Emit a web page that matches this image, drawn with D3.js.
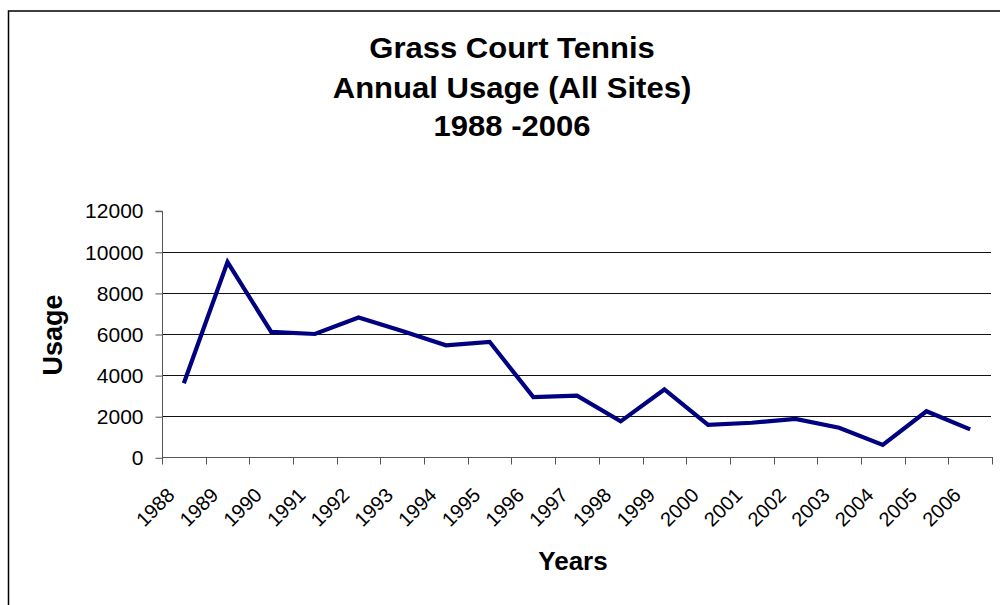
<!DOCTYPE html>
<html>
<head>
<meta charset="utf-8">
<script src="https://cdn.jsdelivr.net/npm/d3@7"></script>
<style>
  html, body { margin: 0; padding: 0; background: #fff; }
  svg { display: block; }
  text { font-family: Arial, "Liberation Sans", sans-serif; fill: #000; }
</style>
</head>
<body>
<svg id="chart" width="1000" height="605"></svg>
<script>
// ---- data ----
const years = ["1988","1989","1990","1991","1992","1993","1994","1995","1996","1997",
               "1998","1999","2000","2001","2002","2003","2004","2005","2006"];
const usage = [3600, 9500, 6100, 6000, 6800, 6150, 5450, 5620, 2930, 3000,
               1750, 3300, 1580, 1680, 1870, 1440, 600, 2240, 1360];
const yTicks = [0, 2000, 4000, 6000, 8000, 10000, 12000];
const titleLines = ["Grass Court Tennis", "Annual Usage (All Sites)", "1988 -2006"];
const xTitle = "Years";
const yTitle = "Usage";

// ---- layout ----
const svg = d3.select("#chart");
const plotLeft = 162, plotRight = 992, plotTop = 210.7, plotBottom = 457.3;

// outer chart border
svg.append("rect")
  .attr("x", 8.5).attr("y", 11).attr("width", 1200).attr("height", 800)
  .attr("fill", "none").attr("stroke", "#000").attr("stroke-width", 1.5);

const x = d3.scaleBand().domain(years).range([plotLeft, plotRight]).padding(0);
const y = d3.scaleLinear().domain([0, 12000]).range([plotBottom, plotTop]);

// gridlines (not at 0 and not at max)
svg.append("g").selectAll("line")
  .data(yTicks.filter(d => d > 0 && d < 12000))
  .join("line")
  .attr("x1", plotLeft).attr("x2", plotRight - 1)
  .attr("y1", d => Math.round(y(d)) + 0.5).attr("y2", d => Math.round(y(d)) + 0.5)
  .attr("stroke", "#111").attr("stroke-width", 1);

// y axis
const yAxis = d3.axisLeft(y).tickValues(yTicks).tickSize(7).tickPadding(12).tickFormat(d3.format("d"));
const gy = svg.append("g").attr("transform", `translate(${plotLeft + 0.5},0.5)`).call(yAxis);
gy.select(".domain").attr("stroke", "#555").attr("d", `M-7,${y(12000)}H0V${y(0)}`);
gy.selectAll(".tick line").attr("stroke", "#555");
gy.selectAll(".tick text").attr("font-size", "21px").attr("font-family", "Arial, 'Liberation Sans', sans-serif").attr("fill", "#000");

// x axis: ticks at band boundaries
const boundaries = years.map(d => x(d)).concat([plotRight]);
const gx = svg.append("g");
gx.append("line").attr("x1", plotLeft).attr("x2", plotRight + 0.5)
  .attr("y1", Math.round(plotBottom) + 0.5).attr("y2", Math.round(plotBottom) + 0.5)
  .attr("stroke", "#555");
gx.selectAll("line.tk").data(boundaries).join("line").attr("class", "tk")
  .attr("x1", d => Math.round(d) + 0.5).attr("x2", d => Math.round(d) + 0.5)
  .attr("y1", Math.round(plotBottom)).attr("y2", Math.round(plotBottom) + 7.5)
  .attr("stroke", "#555");
gx.selectAll("text").data(years).join("text")
  .attr("transform", d => `translate(${x(d) + x.bandwidth() / 2 - 8},${plotBottom + 39}) rotate(-45)`)
  .attr("text-anchor", "end")
  .attr("font-size", "20px")
  .text(d => d);

// line
const line = d3.line()
  .x((d, i) => x(years[i]) + x.bandwidth() / 2)
  .y(d => y(d));
svg.append("path").datum(usage)
  .attr("d", line)
  .attr("fill", "none")
  .attr("stroke", "#000080")
  .attr("stroke-width", 4.2)
  .attr("stroke-linejoin", "miter");

// title
const titleY = [58.3, 97.5, 135.5];
svg.append("g").selectAll("text").data(titleLines).join("text")
  .attr("transform", (d, i) => `translate(512,${titleY[i]}) scale(1.07,1)`)
  .attr("text-anchor", "middle")
  .attr("font-size", "29px")
  .attr("font-weight", "bold")
  .text(d => d);

// axis titles
svg.append("text")
  .attr("x", (plotLeft + plotRight) / 2 - 4).attr("y", 570)
  .attr("text-anchor", "middle")
  .attr("font-size", "26px").attr("font-weight", "bold")
  .text(xTitle);

svg.append("text")
  .attr("transform", `translate(62,335) rotate(-90)`)
  .attr("text-anchor", "middle")
  .attr("font-size", "27px").attr("font-weight", "bold")
  .text(yTitle);
</script>
</body>
</html>
